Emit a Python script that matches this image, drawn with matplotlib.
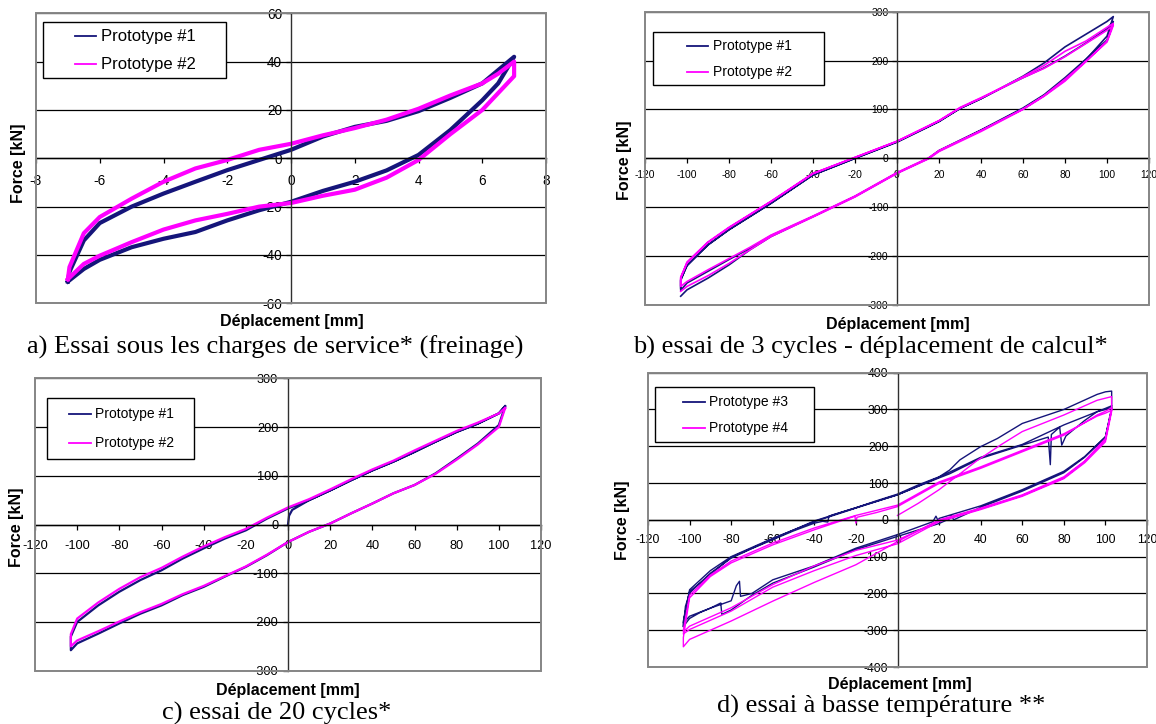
import matplotlib
matplotlib.use("Agg")
import matplotlib.pyplot as plt
from matplotlib.patches import Rectangle
from matplotlib.lines import Line2D

plt.rcParams['font.family'] = ['Liberation Sans', 'DejaVu Sans']
plt.rcParams['axes.unicode_minus'] = False

W, H = 1156, 724
BLUE = '#15157a'
MAG = '#ff00ff'

# ---------------- Panel a data ----------------
a_p1_x = [-7, -6.95, -6.5, -6, -5, -4, -3, -2, -1, 0, 1, 2, 3, 4, 5, 6, 6.5, 7,
          7, 6.5, 6, 5, 4, 3, 2, 1, 0, -1, -2, -3, -4, -5, -6, -6.5, -7]
a_p1_y = [-51, -47, -34, -26.8, -20, -14.6, -9.7, -4.9, -0.7, 3.5, 9, 13, 15.5, 19.5, 25, 31, 36.5, 42,
          42, 31, 24, 11.7, 1.4, -5, -9.7, -13.5, -18, -21.5, -25.7, -30.5, -33.3, -36.8, -42, -45.8, -51]
a_p2_x = [-7, -6.95, -6.5, -6, -5, -4, -3, -2, -1, 0, 1, 2, 3, 4, 5, 6, 6.5, 7,
          7, 7, 6.5, 6, 5, 4, 3, 2, 1, 0, -1, -2, -3, -4, -5, -6, -6.5, -7]
a_p2_y = [-50, -45, -31, -24.3, -16.7, -9.7, -4.2, -0.7, 3.5, 6, 9.5, 12.5, 16, 20.5, 26, 31, 35, 40,
          40, 34, 27, 20, 10, -0.7, -8, -13, -15.5, -18.5, -20, -23, -25.7, -29.5, -34.7, -40.3, -43.7, -50]

# ---------------- Panel b data ----------------
b_p1_x = [-103, -100, -90, -80, -70, -60, -40, -20, 0, 15, 20, 40, 60, 70, 80, 90, 100, 103,
          103, 100, 90, 80, 70, 60, 50, 40, 30, 20, 0, -20, -40, -60, -80, -90, -100, -103, -103,
          -100, -90, -80, -70, -60, -40, -20, 0, 15, 20, 40, 60, 70, 80, 90, 100, 103,
          103, 100, 90, 80, 70, 60, 50, 40, 30, 20, 0, -20, -40, -60, -80, -90, -100, -103, -103]
b_p1_y = [-282, -269, -245, -218, -187, -160, -119, -78, -30, 0, 15, 57, 101, 128, 160, 202, 250, 290,
          290, 280, 254, 228, 195, 168, 145, 122, 102, 76, 34, 0, -34, -92, -146, -177, -218, -250, -270,
          -255, -231, -207, -184, -158, -119, -78, -30, 0, 16, 58, 103, 130, 165, 203, 242, 280,
          280, 265, 236, 209, 185, 165, 144, 122, 102, 75, 33, 0, -34, -92, -146, -177, -220, -248, -265]
b_p2_x = [-103, -100, -90, -80, -70, -60, -40, -20, 0, 15, 20, 40, 60, 70, 80, 90, 100, 103,
          103, 100, 90, 80, 70, 60, 50, 40, 30, 20, 0, -20, -40, -60, -80, -90, -100, -103, -103,
          -100, -90, -80, -70, -60, -40, -20, 0, 15, 20, 40, 60, 70, 80, 90, 100, 103,
          103, 100, 90, 80, 70, 60, 50, 40, 30, 20, 0, -20, -40, -60, -80, -90, -100, -103, -103]
b_p2_y = [-272, -262, -240, -215, -187, -160, -120, -79, -31, -1, 14, 55, 100, 127, 158, 198, 240, 276,
          276, 268, 240, 219, 190, 167, 144, 123, 103, 77, 35, 2, -31, -88, -141, -171, -212, -245, -262,
          -252, -228, -205, -182, -157, -118, -77, -29, 1, 16, 57, 101, 128, 162, 199, 238, 272,
          272, 262, 235, 208, 184, 165, 145, 124, 104, 77, 35, 2, -31, -88, -142, -172, -214, -243, -260]

# ---------------- Panel c data ----------------
c_p1_x = [0, 0.5, 2, 10, 20, 30, 40, 50, 60, 70, 80, 90, 100, 103,
          103, 100, 90, 80, 70, 60, 50, 40, 30, 20, 10, 0, -10, -20, -30, -40, -50, -60, -70, -80, -90, -100, -103,
          -103, -103, -100, -90, -80, -70, -60, -50, -40, -30, -20, -10, 0, 10, 20, 30, 40, 50, 60, 70, 80, 90, 100, 103]
c_p1_y = [0, 18, 30, 50, 70, 91, 111, 129, 149, 170, 190, 207, 228, 243,
          243, 204, 166, 135, 105, 81, 64, 43, 23, 2, -15, -36, -63, -87, -107, -128, -145, -166, -183, -203, -224, -244, -258,
          -258, -230, -200, -166, -138, -114, -94, -70, -49, -29, -12, 12, 33, 50, 70, 91, 111, 129, 149, 170, 190, 207, 228, 243]
c_p2_x = [103, 100, 90, 80, 70, 60, 50, 40, 30, 20, 10, 0, -10, -20, -30, -40, -50, -60, -70, -80, -90, -100, -103,
          -103, -103, -100, -90, -80, -70, -60, -50, -40, -30, -20, -10, 0, 10, 20, 30, 40, 50, 60, 70, 80, 90, 100, 103]
c_p2_y = [239, 200, 164, 133, 104, 81, 64, 43, 23, 2, -15, -36, -62, -86, -106, -126, -143, -163, -180, -199, -219, -238, -250,
          -250, -225, -193, -160, -132, -108, -89, -66, -45, -26, -9, 14, 35, 52, 72, 93, 113, 131, 152, 172, 192, 209, 228, 239]

# ---------------- Panel d data ----------------
d_p3_x = [-103, -102, -100, -90, -80, -70, -60, -50, -40, -36, -33.5, -33, -31, -20, -10, 0, 10, 20, 25, 30, 40, 48, 60, 80, 96, 100, 103,
          103, 100, 90, 80, 60, 40, 20, 19.5, 18.5, 17, 0, -20, -40, -60, -70, -75.5, -76, -77.5, -80, -90, -100, -103,
          -103, -100, -90, -80, -60, -40, -20, 0, 20, 25, 40, 60, 72.5, 73.5, 74, 78, 79, 81, 90, 96, 100, 103,
          103, 100, 90, 80, 60, 40, 27, 26, 25, 20, 0, -20, -40, -60, -70, -80, -84.5, -85, -90, -95, -100, -103,
          -103, -100, -80, -60, -40, -20, 0, 20, 40, 60, 80, 100, 103]
d_p3_y = [-290, -235, -199, -145, -104, -78, -54, -30, -9, -4, -6, 10, 14, 33, 52, 70, 95, 117, 135, 163, 199, 221, 262, 300, 341, 348, 350,
          305, 226, 172, 132, 82, 38, 4, -2, 10, -5, -40, -77, -125, -163, -200, -208, -167, -179, -220, -240, -262, -280,
          -280, -190, -138, -100, -50, -5, 32, 68, 114, 125, 167, 203, 225, 150, 232, 252, 203, 228, 270, 294, 300, 305,
          300, 225, 170, 128, 78, 34, 0, 12, 3, -10, -45, -81, -128, -172, -205, -245, -257, -226, -240, -252, -268, -290,
          -275, -195, -102, -52, -3, 33, 68, 116, 170, 205, 258, 303, 310]
d_p4_x = [0, 10, 20, 30, 38, 50, 60, 80, 96, 103,
          103, 100, 90, 80, 60, 40, 20, 0, -20, -40, -60, -80, -100, -103,
          -103, -100, -90, -80, -60, -40, -20.5, -20, -19.5, -10, 0, 20, 40, 60, 80, 96, 100, 103,
          103, 100, 90, 80, 60, 40, 20, 0, -20, -40, -60, -80, -100, -103,
          -103, -100, -90, -80, -60, -40, -20, 0, 20, 40, 60, 80, 96, 100, 103,
          103, 100, 90, 80, 60, 40, 20, 0, -20, -40, -60, -80, -100, -103]
d_p4_y = [12, 45, 82, 125, 160, 205, 240, 285, 325, 335,
          300, 221, 160, 117, 68, 32, 0, -59, -122, -170, -221, -275, -325, -345,
          -320, -212, -154, -117, -68, -27, 10, -9, 7, 20, 36, 99, 140, 185, 230, 285, 295, 305,
          300, 218, 158, 114, 66, 30, -3, -55, -83, -125, -176, -239, -289, -305,
          -300, -205, -150, -112, -63, -22, 12, 40, 103, 144, 189, 234, 282, 290, 298,
          295, 212, 155, 112, 64, 28, -5, -65, -97, -138, -183, -248, -298, -310]


def px_axes(fig, l, r, t, b):
    return fig.add_axes([l / W, 1 - b / H, (r - l) / W, (b - t) / H])


def setup(ax, xlim, xticks, ylim, yticks, fs, xpad, ypad):
    ax.set_xlim(xlim)
    ax.set_ylim(ylim)
    ax.set_xticks(xticks)
    ax.set_yticks(yticks)
    ax.set_xticklabels([str(v) for v in xticks])
    ax.set_yticklabels([str(v) for v in yticks])
    for s in ('top', 'right'):
        ax.spines[s].set_visible(False)
    ax.spines['left'].set_position(('data', 0))
    ax.spines['bottom'].set_position(('data', 0))
    ax.spines['left'].set_color('#303030')
    ax.spines['bottom'].set_color('black')
    ax.spines['left'].set_linewidth(1.0)
    ax.spines['bottom'].set_linewidth(1.0)
    ax.tick_params(direction='out', length=3.5, width=0.9, labelsize=fs, colors='black')
    ax.tick_params(axis='x', pad=xpad)
    ax.tick_params(axis='y', pad=ypad)
    ax.yaxis.grid(True, color='black', lw=0.9)
    ax.xaxis.grid(False)
    ax.set_axisbelow(True)
    ax.add_patch(Rectangle((0, 0), 1, 1, transform=ax.transAxes, fill=False,
                           ec='#858585', lw=1.4, clip_on=False, zorder=3))


def legend(fig, x0, y0, x1, y1, lx0, lx1, tx, rows, labels, fs):
    fig.add_artist(Rectangle((x0 / W, 1 - y1 / H), (x1 - x0) / W, (y1 - y0) / H,
                             transform=fig.transFigure, fc='white', ec='black', lw=1.0))
    for r, lab, col in zip(rows, labels, [BLUE, MAG]):
        fig.add_artist(Line2D([lx0 / W, lx1 / W], [1 - r / H, 1 - r / H],
                              transform=fig.transFigure, color=col, lw=1.3))
        fig.text(tx / W, 1 - r / H, lab, fontsize=fs, va='center', ha='left')


def ftext(fig, x, y, s, **kw):
    fig.text(x / W, 1 - y / H, s, **kw)


SERIF = ['Liberation Serif', 'DejaVu Serif']
CAP = 19
LAB = 11.5

fig = plt.figure(figsize=(W / 100, H / 100), dpi=100)

# Panel a
ax = px_axes(fig, 36, 546, 13.3, 303.3)
setup(ax, (-8, 8), [-8, -6, -4, -2, 0, 2, 4, 6, 8], (-60, 60), [-60, -40, -20, 0, 20, 40, 60], 9.8, 8, 3)
ax.plot(a_p1_x, a_p1_y, color=BLUE, lw=3.0, solid_joinstyle='round')
ax.plot(a_p2_x, a_p2_y, color=MAG, lw=3.0, solid_joinstyle='round')
legend(fig, 43, 21.7, 225.7, 78.3, 74.6, 96.3, 100.7, [36, 64], ['Prototype #1', 'Prototype #2'], 12)
ftext(fig, 19, 163, 'Force [kN]', rotation=90, ha='center', va='center', fontsize=LAB, fontweight='bold')
ftext(fig, 292, 321, 'Déplacement [mm]', ha='center', va='center', fontsize=LAB, fontweight='bold')
ftext(fig, 27, 353.5, 'a) Essai sous les charges de service* (freinage)', ha='left', va='baseline',
      fontsize=CAP, family=SERIF)

# Panel b
ax = px_axes(fig, 645, 1149, 11.7, 305)
setup(ax, (-120, 120), list(range(-120, 121, 20)), (-300, 300), list(range(-300, 301, 100)), 7.4, 5, 2.5)
ax.plot(b_p1_x, b_p1_y, color=BLUE, lw=1.2)
ax.plot(b_p2_x, b_p2_y, color=MAG, lw=1.2)
legend(fig, 653, 32.3, 823.5, 85, 686.7, 708, 712.7, [46, 72.3], ['Prototype #1', 'Prototype #2'], 10)
ftext(fig, 625, 160, 'Force [kN]', rotation=90, ha='center', va='center', fontsize=LAB, fontweight='bold')
ftext(fig, 898, 325, 'Déplacement [mm]', ha='center', va='center', fontsize=LAB, fontweight='bold')
ftext(fig, 870, 353.5, 'b) essai de 3 cycles - déplacement de calcul*', ha='center', va='baseline',
      fontsize=CAP, family=SERIF)

# Panel c
ax = px_axes(fig, 35, 541, 378.3, 670.7)
setup(ax, (-120, 120), list(range(-120, 121, 20)), (-300, 300), list(range(-300, 301, 100)), 9.2, 8, 3.5)
ax.plot(c_p1_x, c_p1_y, color=BLUE, lw=1.6)
ax.plot(c_p2_x, c_p2_y, color=MAG, lw=1.6)
legend(fig, 47.4, 398.3, 194, 459.3, 69, 90.7, 95, [414, 443.3], ['Prototype #1', 'Prototype #2'], 10)
ftext(fig, 17, 527, 'Force [kN]', rotation=90, ha='center', va='center', fontsize=LAB, fontweight='bold')
ftext(fig, 288, 690, 'Déplacement [mm]', ha='center', va='center', fontsize=LAB, fontweight='bold')
ftext(fig, 162, 720, 'c) essai de 20 cycles*', ha='left', va='baseline',
      fontsize=CAP, family=SERIF)

# Panel d
ax = px_axes(fig, 648, 1147, 372.7, 667)
setup(ax, (-120, 120), list(range(-120, 121, 20)), (-400, 400), list(range(-400, 401, 100)), 8.8, 7, 3)
ax.plot(d_p3_x, d_p3_y, color=BLUE, lw=1.0)
ax.plot(d_p4_x, d_p4_y, color=MAG, lw=1.0)
legend(fig, 655.5, 387.3, 814, 441.7, 683, 705, 709, [401.7, 427.7], ['Prototype #3', 'Prototype #4'], 10)
ftext(fig, 622, 520, 'Force [kN]', rotation=90, ha='center', va='center', fontsize=LAB, fontweight='bold')
ftext(fig, 900, 685, 'Déplacement [mm]', ha='center', va='center', fontsize=LAB, fontweight='bold')
ftext(fig, 717, 713, 'd) essai à basse température **', ha='left', va='baseline',
      fontsize=CAP, family=SERIF)

fig.savefig('out.png', dpi=100)
